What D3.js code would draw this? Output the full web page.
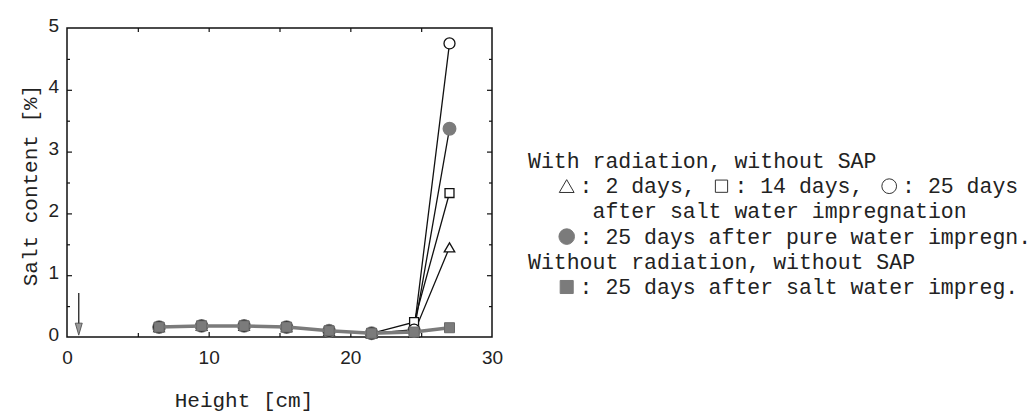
<!DOCTYPE html>
<html>
<head>
<meta charset="utf-8">
<script src="https://cdn.jsdelivr.net/npm/d3@7"></script>
<style>
  html, body { margin: 0; padding: 0; background: #fff; }
  svg { display: block; }
  .mono { font-family: "Liberation Mono", "DejaVu Sans Mono", monospace; fill: #222; }
  .tick text { font-family: "Liberation Sans", Arial, sans-serif; font-size: 19px; fill: #222; }
</style>
</head>
<body>
<svg id="chart" width="1031" height="412"></svg>
<script>
// Sampling heights along the specimen [cm]
const heights = [6.5, 9.5, 12.5, 15.5, 18.5, 21.5, 24.5, 27];

// Salt content [%] — with radiation, without SAP, salt water impregnation
const rad2days  = [0.16, 0.18, 0.18, 0.16, 0.10, 0.06, 0.07, 1.45];
const rad14days = [0.16, 0.18, 0.18, 0.16, 0.10, 0.06, 0.24, 2.33];
const rad25days = [0.16, 0.18, 0.18, 0.16, 0.10, 0.06, 0.12, 4.75];
// With radiation, pure water impregnation, 25 days
const radPure25days = [0.16, 0.18, 0.18, 0.16, 0.10, 0.06, 0.10, 3.37];
// Without radiation, salt water impregnation, 25 days
const noRad25days = [0.16, 0.18, 0.18, 0.16, 0.10, 0.06, 0.08, 0.15];

// Axis ticks
const xMajor = [0, 10, 20, 30];
const xMinor = [5, 15, 25];
const yMajor = [0, 1, 2, 3, 4, 5];
const yMinor = [0.5, 1.5, 2.5, 3.5, 4.5];

// Arrow marking the bottom of the specimen
const arrowX = 0.83;
const arrowFrom = 0.71;
const arrowTo = 0.03;

// Legend lines (symbol tokens take two character cells)
const legendRows = [
  { indent: 0, tokens: ["With radiation, without SAP"] },
  { indent: 2, tokens: [{ sym: "tri" }, ": 2 days, ", { sym: "sq" }, ": 14 days, ", { sym: "circ" }, ": 25 days"] },
  { indent: 5, tokens: ["after salt water impregnation"] },
  { indent: 2, tokens: [{ sym: "dot" }, ": 25 days after pure water impregn."] },
  { indent: 0, tokens: ["Without radiation, without SAP"] },
  { indent: 2, tokens: [{ sym: "fsq" }, ": 25 days after salt water impreg."] }
];

const svg = d3.select("#chart");
const gray = "#7b7b7b";

const x = d3.scaleLinear().domain([0, 30]).range([67, 492]);
const y = d3.scaleLinear().domain([0, 5]).range([337, 28]);

// ---- frame and ticks (all pointing inward) ----
const frame = svg.append("g");
frame.append("rect")
  .attr("x", x(0)).attr("y", y(5))
  .attr("width", x(30) - x(0)).attr("height", y(0) - y(5))
  .attr("fill", "none").attr("stroke", "#111").attr("stroke-width", 1.5);

function styleAxis(g) {
  g.select(".domain").remove();
  g.selectAll(".tick line").attr("stroke", "#111").attr("stroke-width", 1.2);
}

svg.append("g").attr("transform", `translate(0,${y(0)})`)
  .call(d3.axisBottom(x).tickValues(xMajor).tickSizeInner(-5).tickSizeOuter(0).tickPadding(14).tickFormat(d3.format("d")))
  .call(styleAxis)
  .call(g => g.selectAll(".tick").filter(d => d === 0 || d === 30).select("line").remove());
svg.append("g").attr("transform", `translate(0,${y(0)})`)
  .call(d3.axisBottom(x).tickValues(xMinor).tickSizeInner(-4).tickSizeOuter(0).tickFormat(""))
  .call(styleAxis);
svg.append("g").attr("transform", `translate(0,${y(5)})`)
  .call(d3.axisTop(x).tickValues([5, 10, 15, 20, 25]).tickSizeInner(-4).tickSizeOuter(0).tickFormat(""))
  .call(styleAxis);

svg.append("g").attr("transform", `translate(${x(0)},0)`)
  .call(d3.axisLeft(y).tickValues(yMajor).tickSizeInner(-5).tickSizeOuter(0).tickPadding(8).tickFormat(d3.format("d")))
  .call(styleAxis)
  .call(g => g.selectAll(".tick").filter(d => d === 0 || d === 5).select("line").remove())
  .call(g => g.selectAll(".tick text").attr("y", -3));
svg.append("g").attr("transform", `translate(${x(0)},0)`)
  .call(d3.axisLeft(y).tickValues(yMinor).tickSizeInner(-3).tickSizeOuter(0).tickFormat(""))
  .call(styleAxis);
svg.append("g").attr("transform", `translate(${x(30)},0)`)
  .call(d3.axisRight(y).tickValues([1, 2, 3, 4]).tickSizeInner(-5).tickSizeOuter(0).tickFormat(""))
  .call(styleAxis);
svg.append("g").attr("transform", `translate(${x(30)},0)`)
  .call(d3.axisRight(y).tickValues(yMinor).tickSizeInner(-3).tickSizeOuter(0).tickFormat(""))
  .call(styleAxis);

// ---- axis titles ----
svg.append("text").attr("class", "mono")
  .attr("transform", `translate(37,${(y(0) + y(5)) / 2 + 3}) rotate(-90)`)
  .attr("text-anchor", "middle").attr("font-size", 21)
  .text("Salt content [%]");
svg.append("text").attr("class", "mono")
  .attr("x", 244).attr("y", 407)
  .attr("text-anchor", "middle").attr("font-size", 21)
  .text("Height [cm]");

// ---- arrow at the specimen base ----
svg.append("line")
  .attr("x1", x(arrowX)).attr("x2", x(arrowX))
  .attr("y1", y(arrowFrom)).attr("y2", y(arrowTo) - 8)
  .attr("stroke", "#222").attr("stroke-width", 1.3);
svg.append("path")
  .attr("d", `M${x(arrowX) - 3.5},${y(arrowTo) - 12} L${x(arrowX) + 3.5},${y(arrowTo) - 12} L${x(arrowX)},${y(arrowTo)} Z`)
  .attr("fill", "#999").attr("stroke", "#444").attr("stroke-width", 0.8);

// ---- data series ----
const line = d3.line().x(d => x(d[0])).y(d => y(d[1]));
const pts = vals => heights.map((h, i) => [h, vals[i]]);

const symbolPath = {
  tri: d3.symbol().type(d3.symbolTriangle).size(48)(),
  sq: d3.symbol().type(d3.symbolSquare).size(80)(),
  circ: d3.symbol().type(d3.symbolCircle).size(95)(),
  dot: d3.symbol().type(d3.symbolCircle).size(125)(),
  fsq: d3.symbol().type(d3.symbolSquare).size(100)()
};

const series = [
  { vals: rad2days, sym: "tri", fill: "#fff", stroke: "#111" },
  { vals: rad14days, sym: "sq", fill: "#fff", stroke: "#111" },
  { vals: radPure25days, sym: "dot", fill: gray, stroke: gray },
  { vals: rad25days, sym: "circ", fill: "#fff", stroke: "#111" }
];

const plot = svg.append("g");
series.forEach(s => {
  plot.append("path").datum(pts(s.vals))
    .attr("d", line).attr("fill", "none").attr("stroke", "#111").attr("stroke-width", 1.3);
});
series.forEach(s => {
  plot.append("g").selectAll("path").data(pts(s.vals)).join("path")
    .attr("transform", d => `translate(${x(d[0])},${y(d[1]) + (s.sym === "tri" ? 1.5 : 0)})`)
    .attr("d", symbolPath[s.sym])
    .attr("fill", s.fill).attr("stroke", s.stroke).attr("stroke-width", 1.3);
});

// Non-irradiated specimen drawn on top in gray
plot.append("path").datum(pts(noRad25days))
  .attr("d", line).attr("fill", "none").attr("stroke", gray).attr("stroke-width", 3.5);
plot.append("g").selectAll("path").data(pts(noRad25days)).join("path")
  .attr("transform", d => `translate(${x(d[0])},${y(d[1])})`)
  .attr("d", symbolPath.fsq)
  .attr("fill", gray).attr("stroke", "#6a6a6a").attr("stroke-width", 1);

// ---- legend ----
const cell = 12.9;
const legendX = 528;
const legendY0 = 168;
const rowGap = 25.2;
const legend = svg.append("g");

const legendSymbol = {
  tri: d3.symbol().type(d3.symbolTriangle).size(95)(),
  sq: d3.symbol().type(d3.symbolSquare).size(150)(),
  circ: d3.symbol().type(d3.symbolCircle).size(170)(),
  dot: d3.symbol().type(d3.symbolCircle).size(190)(),
  fsq: d3.symbol().type(d3.symbolSquare).size(170)()
};

legendRows.forEach((row, r) => {
  let col = row.indent;
  const baseY = legendY0 + r * rowGap;
  row.tokens.forEach(tok => {
    if (typeof tok === "string") {
      legend.append("text").attr("class", "mono")
        .attr("x", legendX + col * cell).attr("y", baseY)
        .attr("font-size", cell / 0.6)
        .style("white-space", "pre")
        .text(tok);
      col += tok.length;
    } else {
      const cx = legendX + (col + 1) * cell;
      const cy = baseY - 7;
      const filled = tok.sym === "dot" || tok.sym === "fsq";
      legend.append("path")
        .attr("transform", `translate(${cx},${cy + (tok.sym === "tri" ? 2 : 0)})`)
        .attr("d", legendSymbol[tok.sym])
        .attr("fill", filled ? gray : "none")
        .attr("stroke", filled ? gray : "#333").attr("stroke-width", 1);
      col += 2;
    }
  });
});
</script>
</body>
</html>
